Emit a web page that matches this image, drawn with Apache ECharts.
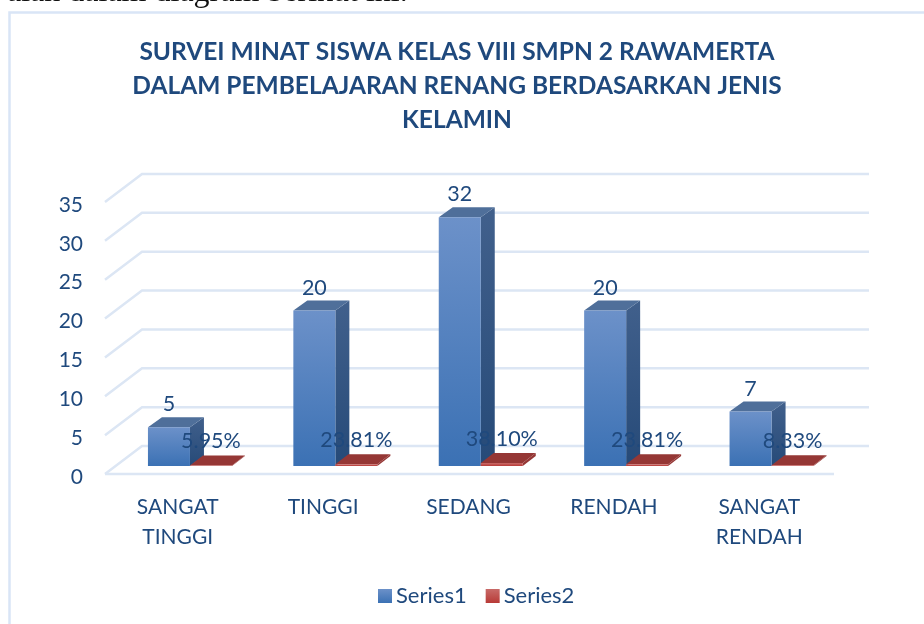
<!DOCTYPE html>
<html><head><meta charset="utf-8">
<style>html,body{margin:0;padding:0;background:#fff}#c{width:924px;height:624px}</style>
<script src="https://cdn.jsdelivr.net/npm/echarts@6/dist/echarts.min.js"></script>
</head><body><div id="c"></div>
<script>
const categories = ['SANGAT\nTINGGI','TINGGI','SEDANG','RENDAH','SANGAT\nRENDAH'];
const series1Values = [5,20,32,20,7];
const series2Percent = [5.95,23.81,38.10,23.81,8.33];
const yTicks = [0,5,10,15,20,25,30,35];
const titleLines = 'SURVEI MINAT SISWA KELAS VIII SMPN 2 RAWAMERTA\nDALAM PEMBELAJARAN RENANG BERDASARKAN JENIS\nKELAMIN';

const INK='#1f497d', GRID='#dce6f4', FONT='Lato, "Open Sans", sans-serif';
const DX=37, DY=-28;
const grad=(a,b)=>({type:'linear',x:0,y:0,x2:0,y2:1,colorStops:[{offset:0,color:a},{offset:1,color:b}]});
const blueFront=grad('#6c91c9','#3b71b4'), blueSide=grad('#41608c','#264a78'), blueTop='#4f6f9a';
const redFront=grad('#c86a68','#b83a37'), redSide='#953735', redTop='#953735';

function box(x,yb,yt,w,dx,dy,front,side,top){
  const poly=(points,fill)=>({type:'polygon',shape:{points},style:{fill}});
  return [
    poly([[x+w,yb],[x+w+dx,yb+dy],[x+w+dx,yt+dy],[x+w,yt]],side),
    poly([[x,yt],[x+dx,yt+dy],[x+w+dx,yt+dy],[x+w,yt]],top),
    poly([[x,yb],[x+w,yb],[x+w,yt],[x,yt]],front)
  ];
}
function bars(offset,dx,dy,labelOf,labelY,extra){
  return (params,api)=>{
    const i=api.value(0), v=api.value(1);
    const base=api.coord([i,0]), topP=api.coord([i,extra?v/100:v]);
    const yb=base[1]-8, yt=topP[1]-8, x=base[0]+offset, w=42;
    const kids=box(x,yb,yt,w,dx,dy,extra?redFront:blueFront,extra?redSide:blueSide,extra?redTop:blueTop);
    kids.push({type:'text',style:{text:labelOf(v),x:x+w/2,y:labelY(yt),fill:INK,font:'21.5px '+FONT,textAlign:'center',textVerticalAlign:'middle'}});
    return {type:'group',children:kids};
  };
}
function wall(params,api){
  const p=api.coord([0,api.value(0)]), s=params.coordSys, x=s.x, y=p[1];
  const stroke={stroke:GRID,lineWidth:2.5,fill:'none'};
  const kids=[{type:'polyline',shape:{points:[[x,y],[x+DX,y+DY],[x+s.width+DX,y+DY]]},style:stroke}];
  if(api.value(0)===0) kids.push({type:'line',shape:{x1:x,y1:y,x2:x+s.width+2,y2:y},style:stroke});
  return {type:'group',children:kids};
}
const chart=echarts.init(document.getElementById('c'),null,{renderer:'canvas'});
chart.setOption({
  animation:false,
  title:{text:titleLines,left:452,top:30,textAlign:'center',textStyle:{color:INK,fontFamily:FONT,fontWeight:'bold',fontSize:24.5,lineHeight:34}},
  legend:{data:['Series1','Series2'],left:373,top:580,itemWidth:14,itemHeight:14,itemGap:19,icon:'rect',
    textStyle:{color:INK,fontFamily:FONT,fontSize:22,padding:[0,0,0,-1]}},
  grid:{left:105,right:92,top:202,bottom:150},
  xAxis:{type:'category',data:categories,axisLine:{show:false},axisTick:{show:false},
    axisLabel:{color:INK,fontFamily:FONT,fontSize:21,lineHeight:30,margin:18,interval:0}},
  yAxis:{type:'value',min:0,max:35,interval:5,splitLine:{show:false},axisLine:{show:false},axisTick:{show:false},
    axisLabel:{color:INK,fontFamily:FONT,fontSize:21,margin:22,verticalAlign:'top',lineHeight:6}},
  series:[
    {type:'custom',name:'grid',silent:true,z:1,data:yTicks.map(v=>[v]),encode:{y:0},renderItem:wall,clip:false},
    {type:'custom',name:'Series1',z:2,itemStyle:{color:blueFront},data:series1Values.map((v,i)=>[i,v]),encode:{x:0,y:1},
      renderItem:bars(-29.75,14,-10,v=>String(v),yt=>yt-23,false),clip:false},
    {type:'custom',name:'Series2',z:3,itemStyle:{color:redFront},data:series2Percent.map((v,i)=>[i,v]),encode:{x:0,y:1},
      renderItem:bars(12.25,13,-10,v=>v.toFixed(2)+'%',yt=>yt-24,true),clip:false}
  ],
  graphic:[
    {type:'polyline',shape:{points:[[9.5,624],[9.5,12.5],[924,12.5]]},style:{stroke:'#d9e5f6',lineWidth:2.5,fill:'none'},z:0},
    {type:'text',left:7,top:-23,style:{text:'alah dalam diagram berikut ini.',fill:'#111',font:'32px "Liberation Serif", serif'},z:0}
  ]
});
</script></body></html>
